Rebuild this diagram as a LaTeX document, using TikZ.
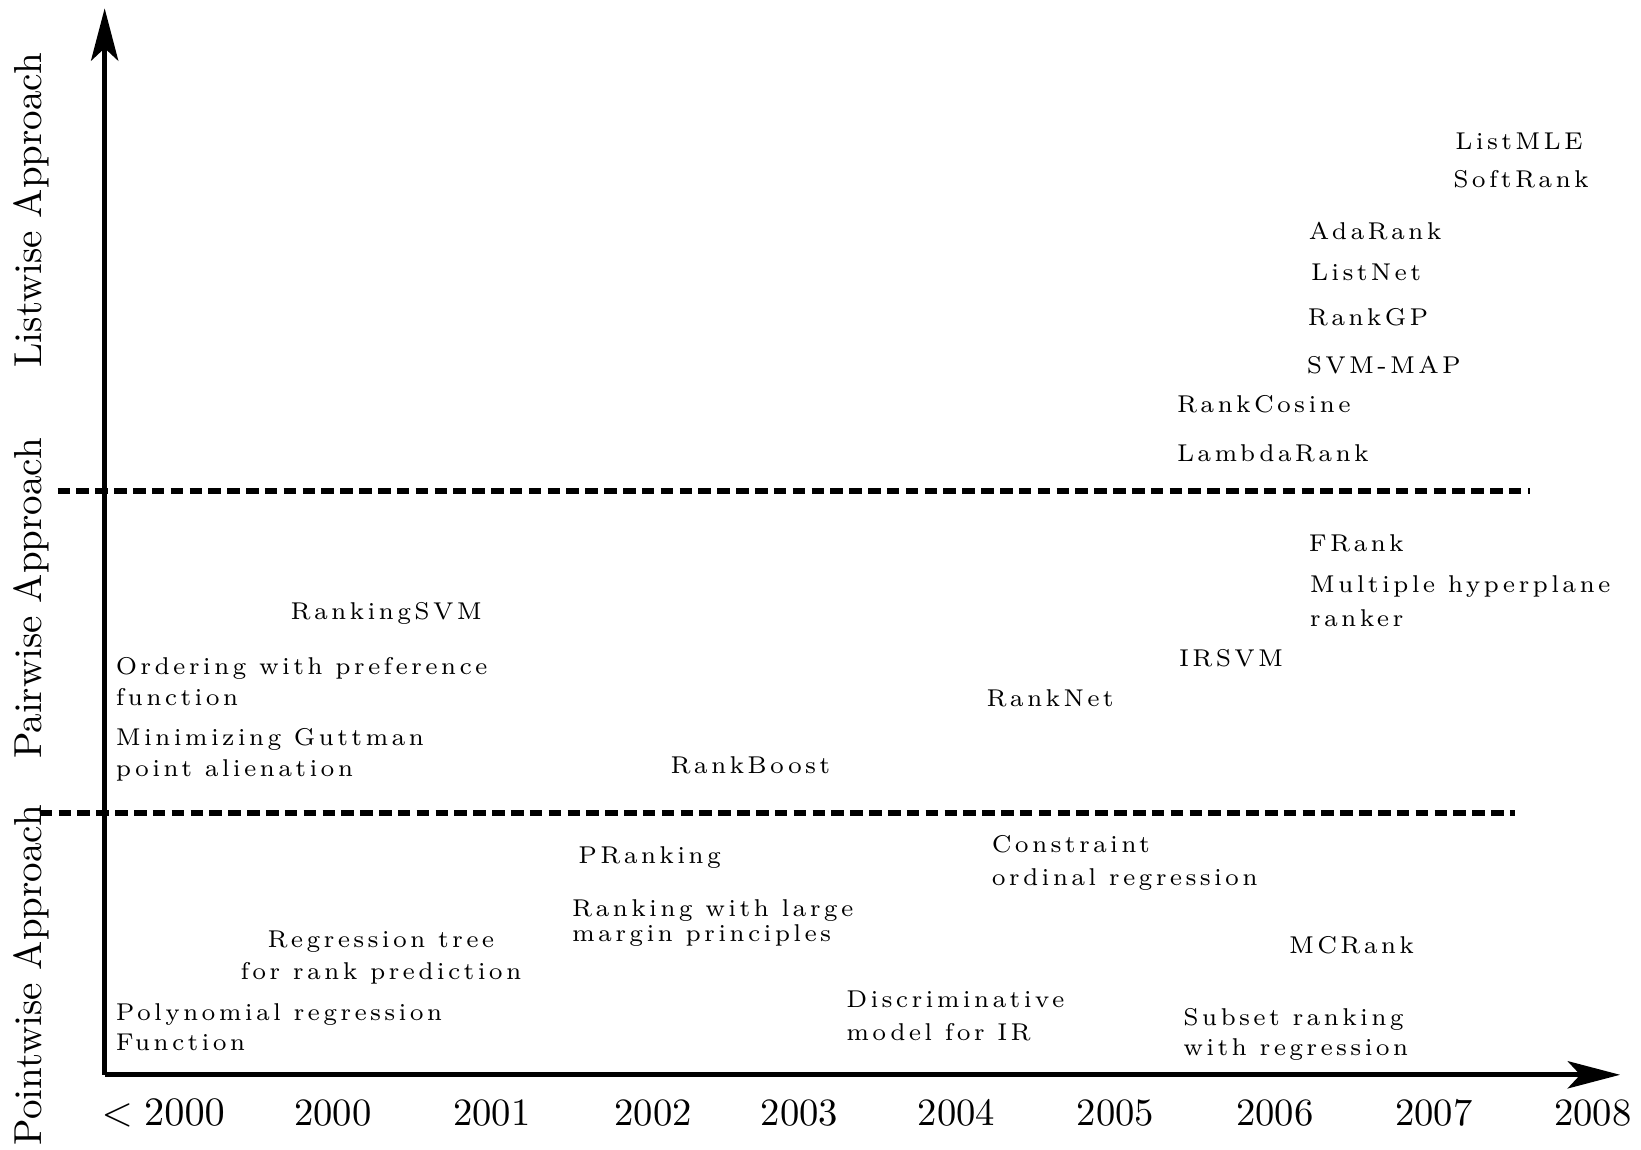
\documentclass[tikz,border=0pt]{standalone}
\usepackage{fontspec}
\usetikzlibrary{arrows.meta}
\newfontfamily\itemfont[LetterSpace=13.5]{Latin Modern Roman}

\begin{document}
\begin{tikzpicture}[x=0.01cm,y=-0.01cm,
    item/.style={font=\itemfont\fontsize{6.6}{8.3}\selectfont, inner sep=0pt, anchor=base west, align=left},
    year/.style={font=\fontsize{10.5}{12}\selectfont, inner sep=0pt, anchor=base},
    approach/.style={font=\fontsize{10.6}{12}\selectfont, inner sep=0pt, anchor=base, rotate=90},
    timeline/.style={line width=1.3pt, -{Stealth[length=5mm,width=2.6mm,inset=1.2mm]}},
    border/.style={line width=1.7pt, dash pattern=on 1.2mm off 0.6mm}]
  \useasboundingbox (0,0) rectangle (1568,1098);
  % axes
  \coordinate (O) at (100,1027);
  \coordinate (ytop) at (100,8);
  \coordinate (xend) at (1548,1027);
  \draw[timeline] (O) -- (ytop);
  \draw[timeline] (O) -- (xend);
  % borders between the approaches
  \coordinate (b1s) at (55,469);
  \coordinate (b1e) at (1462,469);
  \coordinate (b2s) at (38,777);
  \coordinate (b2e) at (1448,777);
  \draw[border] (b1s) -- (b1e);
  \draw[border] (b2s) -- (b2e);
  \node[approach] (listwise) at (40,201) {Listwise Approach};
  \node[approach] (pairwise) at (40,572) {Pairwise Approach};
  \node[approach] (pointwise) at (40,932) {Pointwise Approach};
  % years
  \foreach \x/\t [count=\i] in {156/{$<2000$},318/2000,470/2001,624/2002,764/2003,914/2004,1066/2005,1218/2006,1370/2007,1522/2008}
    \node[year] (y\i) at (\x,1075) {\t};
  % listwise
  \node[item] (listmle) at (1390,143) {ListMLE};
  \node[item] (softrank) at (1388,179) {SoftRank};
  \node[item] (adarank) at (1250,229) {AdaRank};
  \node[item] (listnet) at (1252,268) {ListNet};
  \node[item] (rankgp) at (1249,311) {RankGP};
  \node[item] (svmmap) at (1248,357) {SVM-MAP};
  \node[item] (rankcosine) at (1124,394) {RankCosine};
  \node[item] (lambdarank) at (1124,441) {LambdaRank};
  % pairwise (two-line texts sit on their last line)
  \node[item] (frank) at (1250,527) {FRank};
  \node[item] (mhr) at (1251,599) {Multiple hyperplane\\[1pt]ranker};
  \node[item] (irsvm) at (1126,637) {IRSVM};
  \node[item] (ranknet) at (942,675) {RankNet};
  \node[item] (rankingsvm) at (277,592) {RankingSVM};
  \node[item] (ordering) at (110,674) {Ordering with preference\\function};
  \node[item] (guttman) at (110,742) {Minimizing Guttman\\point alienation};
  \node[item] (rankboost) at (640,739) {RankBoost};
  % pointwise
  \node[item] (pranking) at (552,825) {PRanking};
  \node[item] (largemargin) at (546,900) {Ranking with large\\[-1.5pt]margin principles};
  \node[item] (constraint) at (947,846) {Constraint\\[0.5pt]ordinal regression};
  \node[item, anchor=base, align=center] (regtree) at (364,936) {Regression tree\\[0.5pt]for rank prediction};
  \node[item] (polyreg) at (110,1004) {Polynomial regression\\Function};
  \node[item] (discrim) at (808,994) {Discriminative\\[0.5pt]model for IR};
  \node[item] (mcrank) at (1231,911) {MCRank};
  \node[item] (subset) at (1130,1009) {Subset ranking\\with regression};
\end{tikzpicture}
\end{document}
